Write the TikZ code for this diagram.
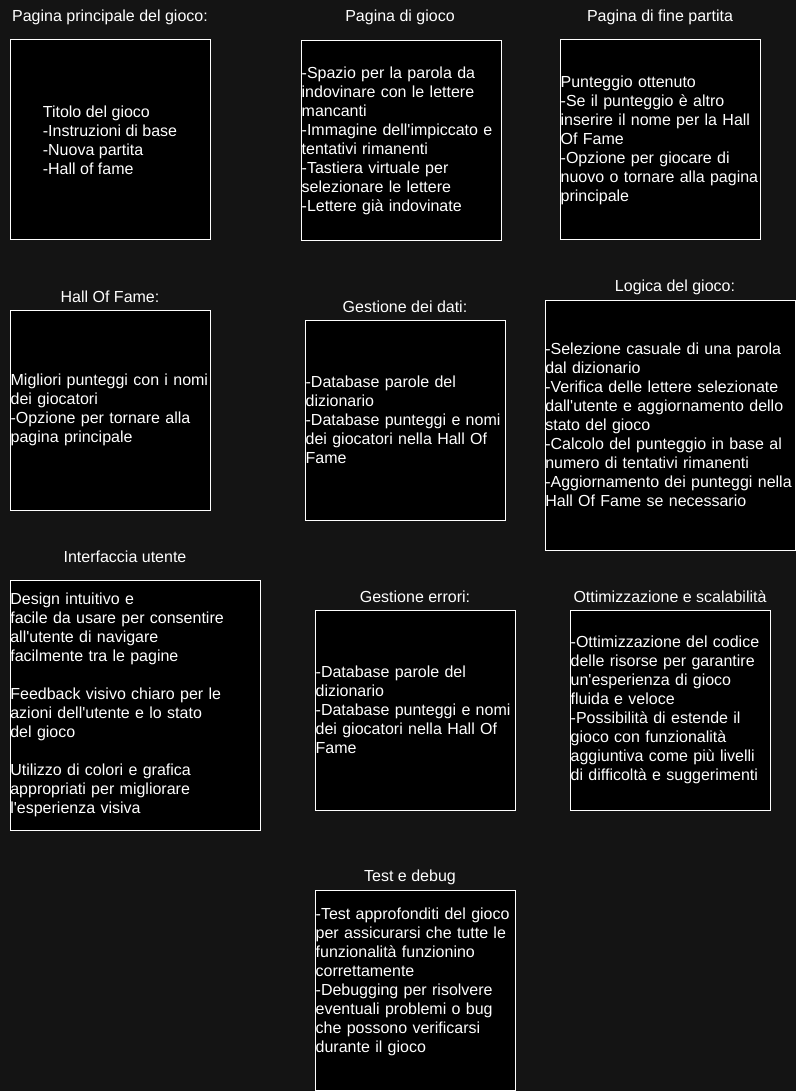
\documentclass[tikz,border=0pt]{standalone}
\usepackage{fontspec}
\setmainfont{Liberation Sans}[Ligatures=TeXOff]
\usepackage{xcolor}
\usetikzlibrary{positioning}
\definecolor{bgdark}{HTML}{141414}

\begin{document}
\begin{tikzpicture}[
  x=0.75pt, y=-0.75pt,
  font=\fontsize{12}{14.25}\selectfont,
  title/.style={text=white, inner sep=0pt},
  basebox/.style={draw=white, line width=0.75pt, fill=black, text=white, align=left, inner xsep=0.5pt, inner ysep=0pt, minimum width=150pt, minimum height=150pt},
  card/.style={basebox, text width=149pt},
  widecard/.style={basebox, inner xsep=0.25pt, text width=187pt, minimum width=187.5pt, minimum height=187.5pt},
]
\fill[bgdark] (0,0) rectangle (796,1091);
\useasboundingbox (0,0) rectangle (796,1091);
% first row
\node[title] (homeT) at (110, 17) {Pagina principale del gioco:};
\node[basebox] (home) at (110, 140) {Titolo del gioco\\-Instruzioni di base\\-Nuova partita\\-Hall of fame};
\node[title] (gameT) at (400, 17) {Pagina di gioco};
\node[card] (game) at (401, 141) {-Spazio per la parola da\\indovinare con le lettere\\mancanti\\-Immagine dell'impiccato e\\tentativi rimanenti\\-Tastiera virtuale per\\selezionare le lettere\\-Lettere già indovinate};
\node[title] (endT) at (660, 17) {Pagina di fine partita};
\node[card] (endgame) at (660, 140) {Punteggio ottenuto\\-Se il punteggio è altro\\inserire il nome per la Hall\\Of Fame\\-Opzione per giocare di\\nuovo o tornare alla pagina\\principale};
% second row
\node[title] (fameT) at (110, 297) {Hall Of Fame:};
\node[card] (fame) at (110, 410) {Migliori punteggi con i nomi\\dei giocatori\\-Opzione per tornare alla\\pagina principale};
\node[title] (dataT) at (405, 307) {Gestione dei dati:};
\node[card] (data) at (405, 420) {-Database parole del\\dizionario\\-Database punteggi e nomi\\dei giocatori nella Hall Of\\Fame};
\node[title] (logicT) at (675, 287) {Logica del gioco:};
\node[widecard] (logic) at (670, 425) {-Selezione casuale di una parola\\dal dizionario\\-Verifica delle lettere selezionate\\dall'utente e aggiornamento dello\\stato del gioco\\-Calcolo del punteggio in base al\\numero di tentativi rimanenti\\-Aggiornamento dei punteggi nella\\Hall Of Fame se necessario};
% third row
\node[title] (uiT) at (125, 557) {Interfaccia utente};
\node[widecard] (ui) at (135, 705) {Design intuitivo e\\facile da usare per consentire\\all'utente di navigare\\facilmente tra le pagine\\ \mbox{}\\Feedback visivo chiaro per le\\azioni dell'utente e lo stato\\del gioco\\ \mbox{}\\Utilizzo di colori e grafica\\appropriati per migliorare\\l'esperienza visiva};
\node[title] (errorsT) at (415, 597) {Gestione errori:};
\node[card] (errors) at (415, 710) {-Database parole del\\dizionario\\-Database punteggi e nomi\\dei giocatori nella Hall Of\\Fame};
\node[title] (optimT) at (670, 597) {Ottimizzazione e scalabilità};
\node[card] (optim) at (670, 710) {-Ottimizzazione del codice\\delle risorse per garantire\\un'esperienza di gioco\\fluida e veloce\\-Possibilità di estende il\\gioco con funzionalità\\aggiuntiva come più livelli\\di difficoltà e suggerimenti};
% last row
\node[title] (testT) at (410, 877) {Test e debug};
\node[card] (testing) at (415, 990) {-Test approfonditi del gioco\\per assicurarsi che tutte le\\funzionalità funzionino\\correttamente\\-Debugging per risolvere\\eventuali problemi o bug\\che possono verificarsi\\durante il gioco\\ \mbox{}};
\end{tikzpicture}
\end{document}
